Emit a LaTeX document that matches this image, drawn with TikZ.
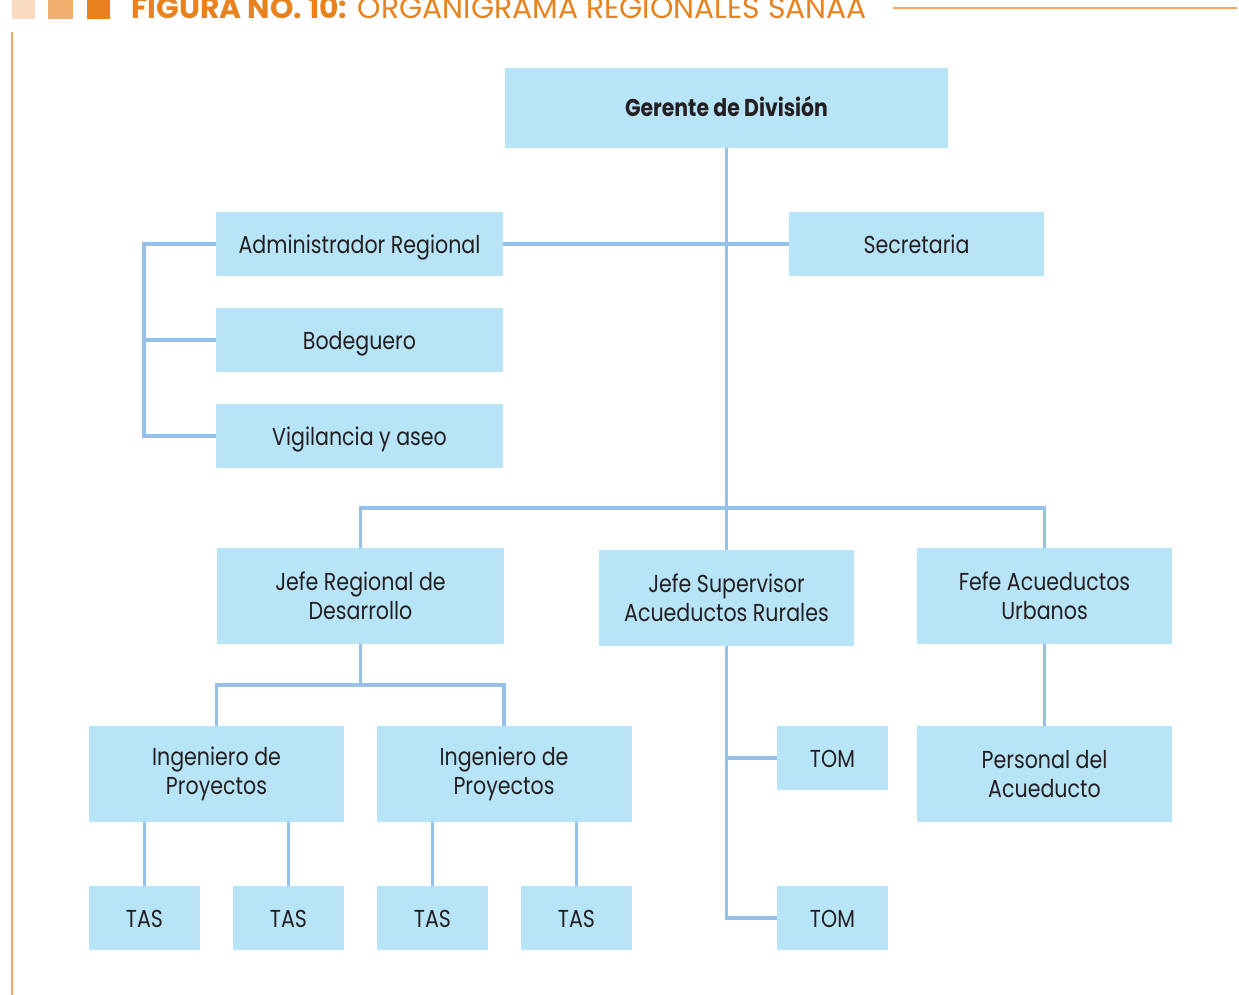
\documentclass[tikz,border=0pt]{standalone}
\usepackage{fontspec}
\setmainfont{Poppins}[FakeStretch=0.84]
\newfontfamily\titlefont{Poppins}
\usetikzlibrary{calc}
\definecolor{boxfill}{HTML}{B8E4F8}
\definecolor{linkblue}{HTML}{96C0E8}
\definecolor{ink}{HTML}{231F20}
\definecolor{orangeA}{HTML}{FADCC3}
\definecolor{orangeB}{HTML}{F2AE70}
\definecolor{orangeC}{HTML}{E8821E}
\definecolor{rule}{HTML}{EFA560}
\tikzset{
  box/.style={fill=boxfill, inner sep=0pt, align=center, text=ink,
    font=\fontsize{24.5}{29}\selectfont},
  oneline/.style={text height=18pt, text depth=0pt},
  wide/.style={box, oneline, minimum width=287, minimum height=64},
  mid/.style={box, minimum width=255, minimum height=96},
  small/.style={box, oneline, minimum width=111, minimum height=64},
  link/.style={draw=linkblue, line width=3.5}
}
\begin{document}
\begin{tikzpicture}[x=1pt,y=-1pt]
\useasboundingbox (0,0) rectangle (1239,995);
\begin{scope}
\clip (0,0) rectangle (1239,995);
% header marks and title
\fill[orangeA] (12,-5) rectangle (35,19);
\fill[orangeB] (48,-5) rectangle (73,19);
\fill[orangeC] (87,-5) rectangle (110,19);
\node[anchor=base west, inner sep=0pt, text=orangeC, font=\titlefont\fontsize{29.8}{30}\selectfont]
  (title) at (131,19) {\textbf{FIGURA NO. 10:} ORGANIGRAMA REGIONALES SANAA};
\end{scope}
\draw[rule, line width=1.4] (893,8) -- (1237,8);
\draw[rule, line width=2.2] (12,32) -- (12,995);

% boxes
\node[box, oneline, minimum width=443, minimum height=80, font=\fontsize{24.3}{29}\selectfont\bfseries]
  (ger) at (726.5,108) {Gerente de División};
\node[wide] (adm) at (359.5,244) {Administrador Regional};
\node[box, oneline, minimum width=255, minimum height=64] (sec) at (916.5,244) {Secretaria};
\node[wide] (bod) at (359.5,340) {Bodeguero};
\node[wide] (vig) at (359.5,436) {Vigilancia y aseo};
\node[mid, minimum width=287] (jrd) at (360.5,596) {Jefe Regional de\\Desarrollo};
\node[mid] (jsa) at (726.5,598) {Jefe Supervisor\\Acueductos Rurales};
\node[mid] (fau) at (1044.5,596) {Fefe Acueductos\\Urbanos};
\node[mid] (ing1) at (216.5,774) {Ingeniero de\\Proyectos};
\node[mid] (ing2) at (504,774) {Ingeniero de\\Proyectos};
\node[small] (tom1) at (832.5,758) {TOM};
\node[mid] (per) at (1044.5,774) {Personal del\\Acueducto};
\node[small] (tas1) at (144.5,918) {TAS};
\node[small] (tas2) at (288.5,918) {TAS};
\node[small] (tas3) at (432.5,918) {TAS};
\node[small] (tas4) at (576.5,918) {TAS};
\node[small] (tom2) at (832.5,918) {TOM};

% connectors
\draw[link] (ger.south) -- (jsa.north);
\draw[link] (adm.east) -- (sec.west);
\draw[link] (adm.west) -- ++(-72,0) |- (vig.west);
\draw[link] (bod.west) -- ++(-72,0);
\draw[link] (jrd.north) -- ++(0,-40) -| (fau.north);
\draw[link] (jrd.south) -- ++(0,41);
\draw[link] (ing1.north) -- ++(0,-41) -| (ing2.north);
\draw[link] (tas1.north) -- (tas1.north |- ing1.south);
\draw[link] (tas2.north) -- (tas2.north |- ing1.south);
\draw[link] (tas3.north) -- (tas3.north |- ing2.south);
\draw[link] (tas4.north) -- (tas4.north |- ing2.south);
\draw[link] (jsa.south) |- (tom2.west);
\draw[link] (tom1.west) -- (tom1.west -| jsa.south);
\draw[link] (fau.south) -- (per.north);
\end{tikzpicture}
\end{document}
